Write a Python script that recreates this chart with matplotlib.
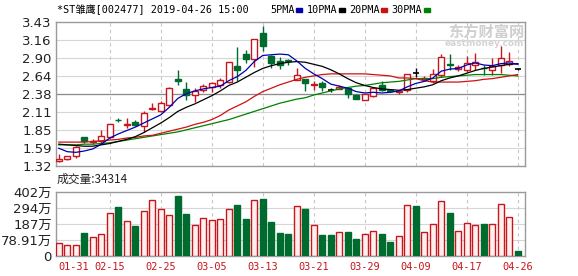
import numpy as np
import matplotlib
matplotlib.use("Agg")
import matplotlib.pyplot as plt
from matplotlib.patches import Rectangle

plt.rcParams["font.family"] = ["DejaVu Sans", "Noto Sans CJK SC"]

TITLE = "*ST雏鹰[002477] 2019-04-26 15:00"
VOLUME_TEXT = "成交量:34314"

# daily candles
opens = [1.40, 1.42, 1.47, 1.74, 1.67, 1.69, 1.74, 2.00, 1.92, 1.97,
         1.91, 2.16, 2.12, 2.21, 2.59, 2.45, 2.36, 2.44, 2.48, 2.50,
         2.55, 2.79, 2.96, 2.89, 3.27, 2.93, 2.86, 2.87, 2.58, 2.59,
         2.51, 2.54, 2.43, 2.45, 2.46, 2.36, 2.29, 2.35, 2.51, 2.43,
         2.41, 2.43, 2.69, 2.60, 2.56, 2.65, 2.81, 2.74, 2.73, 2.80,
         2.76, 2.73, 2.80, 2.82, 2.74]
highs = [1.49, 1.47, 1.61, 1.75, 1.71, 1.85, 1.94, 2.03, 2.02, 2.00,
         2.12, 2.25, 2.27, 2.48, 2.72, 2.55, 2.46, 2.52, 2.55, 2.61,
         2.84, 3.06, 3.02, 3.18, 3.37, 2.95, 2.92, 2.89, 2.75, 2.59,
         2.56, 2.56, 2.47, 2.51, 2.47, 2.37, 2.38, 2.48, 2.56, 2.45,
         2.44, 2.67, 2.75, 2.64, 2.74, 2.96, 2.96, 2.80, 2.93, 2.97,
         2.80, 2.90, 3.08, 2.99, 2.75]
lows = [1.38, 1.41, 1.44, 1.66, 1.64, 1.65, 1.73, 1.96, 1.88, 1.90,
        1.82, 2.14, 2.11, 2.20, 2.51, 2.29, 2.26, 2.41, 2.41, 2.47,
        2.53, 2.57, 2.83, 2.77, 3.00, 2.75, 2.74, 2.80, 2.58, 2.42,
        2.43, 2.42, 2.41, 2.45, 2.31, 2.30, 2.28, 2.33, 2.42, 2.41,
        2.38, 2.41, 2.63, 2.58, 2.54, 2.63, 2.73, 2.71, 2.70, 2.73,
        2.65, 2.65, 2.68, 2.78, 2.73]
closes = [1.42, 1.46, 1.60, 1.68, 1.68, 1.76, 1.93, 1.99, 1.93, 1.92,
          2.10, 2.17, 2.24, 2.47, 2.57, 2.36, 2.42, 2.49, 2.53, 2.58,
          2.84, 2.73, 2.89, 3.18, 3.08, 2.83, 2.80, 2.86, 2.66, 2.53,
          2.52, 2.48, 2.43, 2.48, 2.37, 2.30, 2.37, 2.46, 2.43, 2.42,
          2.42, 2.67, 2.69, 2.61, 2.67, 2.92, 2.80, 2.77, 2.83, 2.84,
          2.75, 2.78, 2.90, 2.86, 2.74]

ma5 = [1.58, 1.53, 1.52, 1.54, 1.57, 1.64, 1.73, 1.79, 1.84, 1.89,
       1.95, 2.01, 2.07, 2.18, 2.31, 2.38, 2.42, 2.45, 2.47, 2.49,
       2.57, 2.63, 2.72, 2.85, 2.94, 2.95, 2.96, 2.95, 2.86, 2.75,
       2.67, 2.60, 2.52, 2.49, 2.46, 2.41, 2.39, 2.40, 2.39, 2.40,
       2.42, 2.48, 2.53, 2.56, 2.61, 2.71, 2.74, 2.75, 2.80, 2.83,
       2.80, 2.79, 2.82, 2.83, 2.81]
ma10 = [1.64, 1.63, 1.62, 1.61, 1.61, 1.63, 1.65, 1.68, 1.71, 1.75,
        1.81, 1.88, 1.95, 2.03, 2.12, 2.18, 2.23, 2.29, 2.35, 2.42,
        2.50, 2.55, 2.62, 2.69, 2.75, 2.79, 2.82, 2.84, 2.85, 2.84,
        2.81, 2.78, 2.73, 2.67, 2.60, 2.54, 2.50, 2.47, 2.45, 2.44,
        2.43, 2.44, 2.46, 2.48, 2.51, 2.57, 2.61, 2.64, 2.68, 2.72,
        2.75, 2.77, 2.79, 2.81, 2.82]
ma20 = [1.67, 1.67, 1.67, 1.67, 1.68, 1.69, 1.70, 1.71, 1.73, 1.74,
        1.76, 1.77, 1.80, 1.83, 1.86, 1.89, 1.93, 1.96, 2.00, 2.06,
        2.14, 2.20, 2.26, 2.34, 2.41, 2.46, 2.51, 2.55, 2.59, 2.62,
        2.64, 2.66, 2.67, 2.67, 2.67, 2.67, 2.67, 2.66, 2.65, 2.64,
        2.61, 2.61, 2.60, 2.57, 2.55, 2.55, 2.55, 2.55, 2.56, 2.57,
        2.59, 2.60, 2.62, 2.64, 2.66]
ma30 = [1.63, 1.63, 1.63, 1.64, 1.64, 1.65, 1.66, 1.68, 1.70, 1.72,
        1.74, 1.76, 1.78, 1.80, 1.82, 1.85, 1.88, 1.91, 1.94, 1.97,
        2.00, 2.04, 2.08, 2.12, 2.16, 2.20, 2.24, 2.27, 2.30, 2.32,
        2.36, 2.39, 2.42, 2.45, 2.47, 2.49, 2.50, 2.52, 2.54, 2.55,
        2.56, 2.58, 2.60, 2.60, 2.60, 2.62, 2.63, 2.64, 2.65, 2.66,
        2.66, 2.66, 2.66, 2.65, 2.64]

# volume in 万, and whether the bar is drawn as an up (red) day
volumes = [84, 67, 67, 142, 117, 141, 272, 306, 222, 186,
           281, 350, 293, 260, 375, 262, 197, 241, 224, 235,
           293, 318, 230, 350, 356, 212, 143, 136, 316, 295,
           197, 130, 130, 153, 149, 105, 136, 159, 140, 90,
           124, 323, 316, 153, 203, 344, 268, 159, 210, 193,
           199, 203, 329, 247, 30]
volume_up = [1, 1, 1, 0, 1, 1, 1, 0, 1, 0,
             1, 1, 1, 1, 0, 0, 1, 1, 1, 1,
             1, 0, 0, 1, 0, 0, 0, 0, 1, 0,
             1, 0, 0, 1, 0, 0, 1, 1, 0, 0,
             1, 1, 0, 1, 1, 1, 0, 1, 1, 1,
             0, 1, 1, 1, 0]

price_tick_labels = ["1.32", "1.59", "1.85", "2.11", "2.38", "2.64", "2.90", "3.16", "3.43"]
volume_tick_labels = ["0", "78.91万", "187万", "294万", "402万"]
date_positions = [0, 6, 12, 18, 24, 30, 36, 42, 48, 54]
date_labels = ["01-31", "02-15", "02-25", "03-05", "03-13",
               "03-21", "03-29", "04-09", "04-17", "04-26"]
ma_names = ["5PMA", "10PMA", "20PMA", "30PMA"]

RED = "#c8161d"
GREEN = "#006b2f"
MA_COLORS = ["#0000b0", "#000000", "#d01010", "#008000"]
GRID = "#d6d6d6"
FRAME = "#9a9a9a"
MONO = ["DejaVu Sans Mono", "Noto Sans CJK SC"]

W, H = 578, 276
fig = plt.figure(figsize=(W / 100, H / 100), dpi=100)
fig.patch.set_facecolor("white")


def frac(left, top, right, bottom):
    return [left / W, 1 - bottom / H, (right - left) / W, (bottom - top) / H]


ax = fig.add_axes(frac(56, 22, 525, 166))
axv = fig.add_axes(frac(56, 192, 525, 256))

n = len(closes)
x = np.arange(n)
o, h, l, c = map(np.array, (opens, highs, lows, closes))
xlim = (-0.33, 54.85)

# price panel
ymin, ymax = 1.32, 3.43
ticks = np.linspace(ymin, ymax, len(price_tick_labels))
for t in ticks[1:-1]:
    ax.axhline(t, color=GRID, lw=0.8, zorder=0)
ax.axhline(ticks[4], color="#8c8c8c", lw=0.9, zorder=0)
for p in date_positions[1:]:
    ax.axvline(p, color="#c8c8c8", lw=0.8, ls=(0, (3, 3)), zorder=0)
    axv.axvline(p, color="#c8c8c8", lw=0.8, ls=(0, (3, 3)), zorder=0)

up = c > o
down = c < o
flat = c == o
colors = np.where(up, RED, np.where(down, GREEN, "black"))
ax.vlines(x, l, h, colors=colors, lw=1.0, zorder=2)
body_lo = np.minimum(o, c)
body_h = np.maximum(np.abs(c - o), 0.006)
ax.bar(x[up], body_h[up], bottom=body_lo[up], width=0.68,
       facecolor="white", edgecolor=RED, lw=1.0, zorder=3)
ax.bar(x[down], body_h[down], bottom=body_lo[down], width=0.68,
       facecolor=GREEN, edgecolor=GREEN, lw=1.0, zorder=3)
ax.hlines(c[flat], x[flat] - 0.38, x[flat] + 0.38, colors="black", lw=1.2, zorder=3)

for series, col in zip([ma30, ma20, ma10, ma5], MA_COLORS[::-1]):
    ax.plot(x, series, color=col, lw=0.9, zorder=4)

ax.set_xlim(*xlim)
ax.set_ylim(ymin, ymax)
ax.set_yticks(ticks)
ax.set_yticklabels(price_tick_labels)
ax.set_xticks([])

# volume panel
vmax = 402
vticks = np.linspace(0, vmax, len(volume_tick_labels))
for t in vticks[1:-1]:
    axv.axhline(t, color=GRID, lw=0.8, zorder=0)
vu = np.array(volume_up) == 1
vol = np.array(volumes, dtype=float)
axv.bar(x[vu], vol[vu], width=0.68, facecolor="#fff0f0", edgecolor=RED, lw=1.0, zorder=3)
axv.bar(x[~vu], vol[~vu], width=0.68, facecolor=GREEN, edgecolor=GREEN, lw=1.0, zorder=3)
axv.set_xlim(*xlim)
axv.set_ylim(0, vmax)
axv.set_yticks(vticks)
axv.set_yticklabels(volume_tick_labels)
axv.set_xticks([])

# date labels: the first one starts at its bar, the rest are centred
for k, (p, lab) in enumerate(zip(date_positions, date_labels)):
    axv.text(p - (0.1 if k == 0 else 0), -0.175, lab, transform=axv.get_xaxis_transform(),
             family=MONO, fontsize=7.4, color=RED, va="center",
             ha="left" if k == 0 else "center")

for a in (ax, axv):
    for s in a.spines.values():
        s.set_color(FRAME)
        s.set_linewidth(1.0)
    a.tick_params(length=0, pad=3, labelsize=9.5, labelcolor="#222222")
    a.set_facecolor("white")

# header texts
fig.text(57 / W, 1 - 10 / H, TITLE, family=MONO, fontsize=7.3, va="center", ha="left")
lx = 270
for name, col in zip(ma_names, MA_COLORS):
    fig.text(lx / W, 1 - 10 / H, name, family=MONO, fontsize=7.3, va="center", ha="left")
    tw = len(name) * 6.1
    fig.patches.append(Rectangle(((lx + tw + 2) / W, 1 - 11.5 / H), 6 / W, 3 / H,
                                 transform=fig.transFigure, color=col))
    lx += tw + 12
fig.text(57 / W, 1 - 179 / H, VOLUME_TEXT, family=["Noto Sans CJK SC"], fontsize=8.5,
         va="center", ha="left", color="#222222")

# eastmoney watermark
fig.text(524 / W, 1 - 32 / H, "东方财富网", family=["Noto Sans CJK SC"], fontsize=11,
         fontweight="bold", color="#cfcfcf", ha="right", va="center")
fig.text(524 / W, 1 - 43 / H, "eastmoney.com", fontsize=6.5, fontweight="bold",
         color="#d4d4d4", ha="right", va="center")

fig.savefig("out.png", dpi=100)
